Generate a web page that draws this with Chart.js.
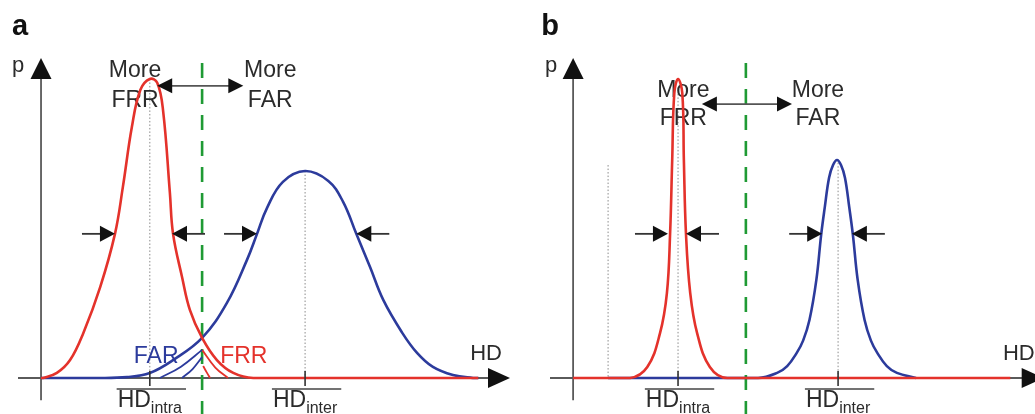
<!DOCTYPE html>
<html>
<head>
<meta charset="utf-8">
<script src="https://cdn.jsdelivr.net/npm/chart.js@4.4.0/dist/chart.umd.min.js"></script>
<style>
  html, body { margin: 0; padding: 0; background: #fff; overflow: hidden; }
  #wrap { position: relative; width: 1035px; height: 414px; overflow: hidden; }
  canvas { position: absolute; top: 0; }
  #panelA { left: 0; }
  #panelB { left: 520px; }
</style>
</head>
<body>
<div id="wrap">
  <canvas id="panelA" width="520" height="414"></canvas>
  <canvas id="panelB" width="530" height="414"></canvas>
</div>
<script>
// panel a: broad intra-class and inter-class HD distributions
const intraHdA = [0, 0.004, 0.030, 0.055, 0.080, 0.112, 0.140, 0.155, 0.172, 0.188, 0.206, 0.220, 0.231, 0.244, 0.250, 0.267, 0.282, 0.305, 0.333, 0.364, 0.402, 0.828];
const intraPA  = [0, 0, 0.017, 0.060, 0.150, 0.304, 0.482, 0.639, 0.839, 0.963, 1.0, 0.987, 0.896, 0.619, 0.482, 0.338, 0.227, 0.134, 0.060, 0.017, 0, 0];
const interHdA = [0, 0.112, 0.163, 0.206, 0.250, 0.305, 0.352, 0.390, 0.409, 0.428, 0.458, 0.5, 0.544, 0.572, 0.597, 0.623, 0.648, 0.684, 0.712, 0.742, 0.780, 0.818, 0.828];
const interPA  = [0, 0, 0.003, 0.017, 0.060, 0.134, 0.251, 0.395, 0.482, 0.569, 0.656, 0.692, 0.659, 0.589, 0.482, 0.371, 0.261, 0.151, 0.084, 0.037, 0.010, 0, 0];

// hatch strokes marking the FAR / FRR areas around the threshold in panel a
const farHatchHd = [[0.225, 0.265, 0.305], [0.267, 0.287, 0.305]];
const farHatchP  = [[0, 0.038, 0.094], [0, 0.030, 0.070]];
const frrHatchHd = [[0.305, 0.330, 0.354], [0.307, 0.314, 0.320]];
const frrHatchP  = [[0.094, 0.035, 0], [0.040, 0.018, 0]];

// panel b: narrow distributions
const intraHdB = [0, 0.1075, 0.140, 0.164, 0.177, 0.183, 0.187, 0.191, 0.198, 0.206, 0.209, 0.213, 0.221, 0.234, 0.258, 0.291, 0.825];
const intraPB  = [0, 0, 0.037, 0.150, 0.284, 0.482, 0.729, 0.953, 1.0, 0.953, 0.729, 0.482, 0.284, 0.150, 0.037, 0, 0];
const interHdB = [0.066, 0.349, 0.385, 0.404, 0.422, 0.434, 0.446, 0.459, 0.468, 0.475, 0.483, 0.4905, 0.498, 0.5055, 0.513, 0.521, 0.528, 0.537, 0.550, 0.562, 0.574, 0.592, 0.611, 0.647];
const interPB  = [0, 0, 0.017, 0.040, 0.084, 0.125, 0.194, 0.328, 0.478, 0.572, 0.670, 0.712, 0.729, 0.712, 0.670, 0.572, 0.478, 0.328, 0.194, 0.125, 0.084, 0.040, 0.017, 0];

// decision thresholds and distribution means
const thresholds = { a: 0.305, b: 0.326 };
const meansA = [0.206, 0.5];
const meansB = [0.198, 0.5];
// half-maximum edges marked with arrows
const widthEdgesA = [0.140, 0.248, 0.409, 0.597];
const widthEdgesB = [0.179, 0.213, 0.470, 0.526];

const RED = '#e4322b';
const BLUE = '#2c3b9c';
const GREEN = '#1f9a34';
const AXIS = '#5a5a5a';
const INK = '#2b2b2b';
const FONT = '"Liberation Sans", Arial, sans-serif';
const hdMin = -0.0436, hdMax = 0.888, pMax = 1.07;

const pts = (xs, ys) => xs.map((v, i) => ({ x: v, y: ys[i] }));

function curve(xs, ys, color, width) {
  return {
    data: pts(xs, ys),
    showLine: true,
    borderColor: color,
    borderWidth: width,
    pointRadius: 0,
    tension: 0.4,
    clip: false
  };
}

function arrowHead(ctx, x, y, angle, len, half) {
  ctx.save();
  ctx.translate(x, y);
  ctx.rotate(angle);
  ctx.beginPath();
  ctx.moveTo(0, 0);
  ctx.lineTo(-len, -half);
  ctx.lineTo(-len, half);
  ctx.closePath();
  ctx.fill();
  ctx.restore();
}

// HD with overline and subscript, centred on x
function meanLabel(ctx, cx, base, sub) {
  ctx.font = '23px ' + FONT;
  const w1 = ctx.measureText('HD').width;
  ctx.font = '16px ' + FONT;
  const w2 = ctx.measureText(sub).width;
  const left = cx - (w1 + w2) / 2;
  ctx.fillStyle = INK;
  ctx.textAlign = 'left';
  ctx.font = '23px ' + FONT;
  ctx.fillText('HD', left, base);
  ctx.font = '16px ' + FONT;
  ctx.fillText(sub, left + w1, base + 6);
  ctx.strokeStyle = '#444';
  ctx.lineWidth = 1.5;
  ctx.setLineDash([]);
  ctx.beginPath();
  ctx.moveTo(left - 1, base - 18);
  ctx.lineTo(left + w1 + w2 + 4, base - 18);
  ctx.stroke();
}

function decor(L) {
  return {
    id: 'decor',
    beforeDatasetsDraw(chart) {
      const { ctx, scales: { x, y } } = chart;
      const px = v => x.getPixelForValue(v), py = v => y.getPixelForValue(v);
      ctx.save();

      // axes with arrow heads
      ctx.strokeStyle = AXIS;
      ctx.lineWidth = 1.8;
      ctx.beginPath();
      ctx.moveTo(px(0), py(-0.074));
      ctx.lineTo(px(0), py(pMax) + 18);
      ctx.moveTo(px(hdMin), py(0));
      ctx.lineTo(px(hdMax) - 20, py(0));
      ctx.stroke();
      ctx.fillStyle = '#111';
      arrowHead(ctx, px(0), py(pMax), -Math.PI / 2, 21, 10.5);
      arrowHead(ctx, px(hdMax), py(0), 0, 22, 10);

      // dotted guides at the means
      ctx.strokeStyle = '#8a8a8a';
      ctx.lineWidth = 1;
      ctx.setLineDash([1.5, 2]);
      ctx.beginPath();
      L.means.forEach((m, i) => {
        ctx.moveTo(px(m), py(L.meanTops[i]));
        ctx.lineTo(px(m), py(0));
      });
      if (L.extraGuide) {
        ctx.moveTo(px(L.extraGuide[0]), py(L.extraGuide[1]));
        ctx.lineTo(px(L.extraGuide[0]), py(0));
      }
      ctx.stroke();

      // threshold
      ctx.strokeStyle = GREEN;
      ctx.lineWidth = 2.6;
      ctx.setLineDash([15, 11]);
      ctx.beginPath();
      ctx.moveTo(px(L.threshold), py(1.053));
      ctx.lineTo(px(L.threshold), py(-0.13));
      ctx.stroke();
      ctx.setLineDash([]);

      // text
      ctx.fillStyle = INK;
      ctx.textAlign = 'left';
      ctx.textBaseline = 'alphabetic';
      ctx.font = '22px ' + FONT;
      ctx.fillText('p', px(L.pAt[0]), py(L.pAt[1]));
      ctx.fillText('HD', px(L.hdAt[0]), py(L.hdAt[1]));
      ctx.font = 'bold 29px ' + FONT;
      ctx.fillStyle = '#111';
      ctx.fillText(L.letter, px(L.letterAt[0]), py(L.letterAt[1]));

      ctx.font = '23px ' + FONT;
      ctx.fillStyle = INK;
      ctx.textAlign = 'center';
      ctx.fillText('More', px(L.moreFrr[0]), py(L.moreFrr[1]));
      ctx.fillText('FRR', px(L.moreFrr[0]), py(L.moreFrr[2]));
      ctx.fillText('More', px(L.moreFar[0]), py(L.moreFar[1]));
      ctx.fillText('FAR', px(L.moreFar[0]), py(L.moreFar[2]));
      if (L.areaLabels) {
        ctx.font = '23px ' + FONT;
        ctx.fillStyle = BLUE;
        ctx.fillText('FAR', px(L.areaLabels.far[0]), py(L.areaLabels.far[1]));
        ctx.fillStyle = RED;
        ctx.fillText('FRR', px(L.areaLabels.frr[0]), py(L.areaLabels.frr[1]));
      }
      ctx.restore();
    },
    afterDatasetsDraw(chart) {
      const { ctx, scales: { x, y } } = chart;
      const px = v => x.getPixelForValue(v), py = v => y.getPixelForValue(v);
      ctx.save();

      // ticks and labels at the means
      ctx.strokeStyle = '#333';
      ctx.lineWidth = 1.6;
      ctx.beginPath();
      L.means.forEach(m => {
        ctx.moveTo(px(m), py(0) - 7);
        ctx.lineTo(px(m), py(0) + 8);
      });
      ctx.stroke();
      meanLabel(ctx, px(L.means[0]), 407, 'intra');
      meanLabel(ctx, px(L.means[1]), 407, 'inter');

      // double arrow between the two "More" captions
      ctx.strokeStyle = '#555';
      ctx.fillStyle = '#111';
      ctx.lineWidth = 1.8;
      const ay = py(L.swap[0]);
      ctx.beginPath();
      ctx.moveTo(px(L.swap[1]) + 10, ay);
      ctx.lineTo(px(L.swap[2]) - 10, ay);
      ctx.stroke();
      arrowHead(ctx, px(L.swap[1]), ay, Math.PI, 15, 7.5);
      arrowHead(ctx, px(L.swap[2]), ay, 0, 15, 7.5);

      // width arrows pointing at the half-maximum edges
      const wy = py(L.widthLevel);
      L.edges.forEach((e, i) => {
        const tip = px(e);
        const dir = i % 2 === 0 ? 1 : -1;
        ctx.strokeStyle = '#333';
        ctx.beginPath();
        ctx.moveTo(tip - dir * 33, wy);
        ctx.lineTo(tip - dir * 8, wy);
        ctx.stroke();
        arrowHead(ctx, tip, wy, dir > 0 ? 0 : Math.PI, 15, 8);
      });
      ctx.restore();
    }
  };
}

function makePanel(id, padding, datasets, L) {
  return new Chart(document.getElementById(id), {
    type: 'scatter',
    data: { datasets },
    options: {
      responsive: false,
      animation: false,
      devicePixelRatio: 1,
      layout: { padding },
      scales: {
        x: { type: 'linear', min: hdMin, max: hdMax, display: false },
        y: { type: 'linear', min: 0, max: pMax, display: false }
      },
      plugins: { legend: { display: false }, tooltip: { enabled: false } },
      events: []
    },
    plugins: [decor(L)]
  });
}

const hatchSets = [];
farHatchHd.forEach((xs, i) => hatchSets.push(curve(xs, farHatchP[i], BLUE, 1.8)));
frrHatchHd.forEach((xs, i) => hatchSets.push(curve(xs, frrHatchP[i], RED, 1.8)));

makePanel('panelA', { left: 18, right: 10, top: 58, bottom: 36 }, [
  curve(intraHdA, intraPA, RED, 2.6),
  curve(interHdA, interPA, BLUE, 2.6),
  ...hatchSets
], {
  letter: 'a', letterAt: [-0.055, 1.147],
  pAt: [-0.055, 1.023], hdAt: [0.8125, 0.060],
  threshold: thresholds.a,
  means: meansA, meanTops: [1.0, 0.692],
  swap: [0.977, 0.220, 0.383],
  moreFrr: [0.178, 1.007, 0.906],
  moreFar: [0.434, 1.007, 0.906],
  widthLevel: 0.482, edges: widthEdgesA,
  areaLabels: { far: [0.218, 0.050], frr: [0.384, 0.050] }
});

makePanel('panelB', { left: 30, right: 6.3, top: 58, bottom: 36 }, [
  curve(intraHdB, intraPB, RED, 2.6),
  curve(interHdB, interPB, BLUE, 2.6)
], {
  letter: 'b', letterAt: [-0.060, 1.147],
  pAt: [-0.053, 1.023], hdAt: [0.811, 0.060],
  threshold: thresholds.b,
  means: meansB, meanTops: [0.95, 0.72],
  extraGuide: [0.066, 0.712],
  swap: [0.916, 0.243, 0.413],
  moreFrr: [0.208, 0.940, 0.846],
  moreFar: [0.462, 0.940, 0.846],
  widthLevel: 0.482, edges: widthEdgesB,
  areaLabels: null
});
</script>
</body>
</html>
